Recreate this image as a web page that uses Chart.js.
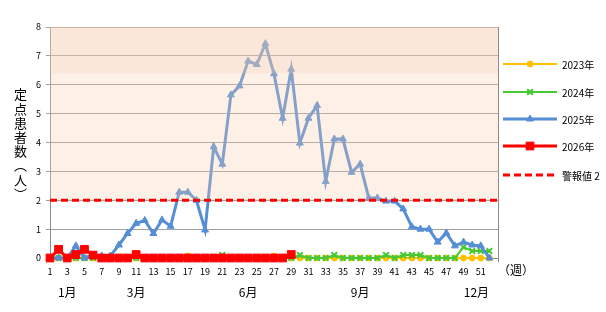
<!DOCTYPE html>
<html lang="ja">
<head>
<meta charset="utf-8">
<script src="https://cdn.jsdelivr.net/npm/chart.js@4.4.1/dist/chart.umd.min.js"></script>
<style>
  html, body { margin: 0; padding: 0; background: #fff; }
  #wrap { position: relative; width: 606px; height: 312px; }
  #yTitle {
    position: absolute; left: 12px; top: 88px;
    writing-mode: vertical-rl;
    font: 13px 'Noto Sans CJK JP', sans-serif; line-height: 16px; color: #000;
    letter-spacing: 1.2px;
  }
</style>
</head>
<body>
<div id="wrap">
  <canvas id="c" width="606" height="312"></canvas>
  <div id="yTitle">定点患者数（人）</div>
</div>
<script>
// week labels (53rd slot is empty, Excel leaves a gap on the right)
const WEEKS = [1,2,3,4,5,6,7,8,9,10,11,12,13,14,15,16,17,18,19,20,21,22,23,24,25,26,
  27,28,29,30,31,32,33,34,35,36,37,38,39,40,41,42,43,44,45,46,47,48,49,50,51,52,''];

const S2023 = [0,0,0,0,0,0,0,0,0,0,0,0,0,0,0,0,0.07,0,0,0,0,0,0,0,0,0,0.07,0,0,0,
  0,0,0,0,0,0,0,0,0,0,0,0,0,0,0,0,0,0,0,0,0,0];
const S2024 = [0,0,0,0,0,0,0,0,0,0,0,0,0,0,0,0,0,0,0,0,0.1,0,0,0,0,0,0,0,0,0.1,
  0,0,0,0.1,0,0,0,0,0,0.1,0,0.1,0.1,0.1,0,0,0,0,0.38,0.24,0.24,0.24];
const S2025 = [0,0,0,0.42,0,0.1,0.07,0.07,0.45,0.85,1.2,1.3,0.85,1.32,1.1,2.28,2.28,2.0,0.97,3.85,
  3.25,5.65,5.96,6.82,6.7,7.42,6.38,4.84,6.54,3.98,4.84,5.28,2.65,4.12,4.12,2.97,3.25,2.08,2.08,1.97,
  1.97,1.7,1.08,1.0,1.0,0.55,0.87,0.42,0.55,0.45,0.42,0];
const S2026 = [0,0.3,0,0.12,0.3,0.1,0,0,0,0,0.12,0,0,0,0,0,0,0,0,0,0,0,0,0,0,0,0,0,0.12];

const ALERT_LEVEL = 2;
const BAND_SPLIT = 6.4;
const Y_MAX = 8;

const MONTH_LABELS = ['1月', '3月', '6月', '9月', '12月'];
const MONTH_WEEKS = [3, 11, 24, 37, 50.5];

const SERIES_NAMES = ['2023年', '2024年', '2025年', '2026年', '警報値 2'];
const LEGEND_Y = [64, 92, 119, 146, 175];

const FONT = "'Noto Sans CJK JP', sans-serif";

// shaded band (drawn over the lines, like the original)
const bandPlugin = {
  id: 'band',
  afterDatasetDraw(chart, args) {
    if (args.index !== 3) return;
    const { ctx, chartArea: a, scales: { y } } = chart;
    const yTop = y.getPixelForValue(Y_MAX);
    const yMid = y.getPixelForValue(BAND_SPLIT);
    const yLow = y.getPixelForValue(ALERT_LEVEL);
    ctx.save();
    ctx.fillStyle = 'rgba(248,205,175,0.3)';
    ctx.fillRect(a.left, yTop, a.right - a.left, yLow - yTop);
    ctx.fillStyle = 'rgba(245,205,175,0.25)';
    ctx.fillRect(a.left, yTop, a.right - a.left, yMid - yTop);
    ctx.restore();
  }
};

// right legend, month labels, (週), right border
const extrasPlugin = {
  id: 'extras',
  afterDraw(chart) {
    const { ctx, chartArea: a, scales: { x } } = chart;
    ctx.save();
    // right border
    ctx.strokeStyle = '#8c8c8c';
    ctx.lineWidth = 1;
    ctx.beginPath();
    ctx.moveTo(a.right + 0.5, a.top);
    ctx.lineTo(a.right + 0.5, a.bottom + 4);
    ctx.stroke();

    // legend
    chart.data.datasets.forEach((ds, i) => {
      const yy = LEGEND_Y[i];
      ctx.strokeStyle = ds.borderColor;
      ctx.lineWidth = ds.borderWidth;
      ctx.setLineDash(ds.borderDash || []);
      ctx.beginPath();
      ctx.moveTo(503, yy);
      ctx.lineTo(557, yy);
      ctx.stroke();
      ctx.setLineDash([]);
      if (ds.pointRadius > 0) {
        ctx.fillStyle = ds.pointBackgroundColor;
        ctx.strokeStyle = ds.pointBorderColor;
        ctx.lineWidth = ds.pointBorderWidth;
        Chart.helpers.drawPoint(ctx, {
          pointStyle: ds.pointStyle, radius: ds.pointRadius,
          borderWidth: ds.pointBorderWidth, rotation: 0
        }, 530, yy);
      }
      ctx.fillStyle = '#000';
      ctx.font = '10px ' + FONT;
      ctx.textAlign = 'left';
      ctx.textBaseline = 'middle';
      ctx.fillText(ds.label, 562, yy + 1);
    });

    // month labels
    ctx.fillStyle = '#000';
    ctx.font = '12px ' + FONT;
    ctx.textAlign = 'center';
    ctx.textBaseline = 'middle';
    MONTH_LABELS.forEach((m, i) => {
      ctx.fillText(m, x.getPixelForValue(MONTH_WEEKS[i] - 1), 292);
    });
    ctx.fillText('（週）', 516, 270);
    ctx.restore();
  }
};

function series(label, data, color, width, style, radius, extra) {
  return Object.assign({
    label, data,
    borderColor: color, backgroundColor: color,
    pointBackgroundColor: color, pointBorderColor: color,
    borderWidth: width, pointStyle: style, pointRadius: radius,
    pointBorderWidth: 1, pointHoverRadius: radius,
    tension: 0, clip: false, spanGaps: false
  }, extra || {});
}

new Chart(document.getElementById('c'), {
  type: 'line',
  data: {
    labels: WEEKS,
    datasets: [
      series(SERIES_NAMES[0], S2023, '#FFC000', 2, 'circle', 3, { order: 4 }),
      series(SERIES_NAMES[1], S2024, '#46C832', 2, 'crossRot', 4, { order: 3, pointBorderWidth: 2 }),
      series(SERIES_NAMES[2], S2025, '#558ED5', 3, 'triangle', 4, { order: 2 }),
      series(SERIES_NAMES[3], S2026, '#FF0000', 3, 'rect', 5.5, { order: 1 }),
      series(SERIES_NAMES[4], WEEKS.map(() => ALERT_LEVEL), '#FF0000', 3, 'circle', 0,
        { order: 0, borderDash: [7, 4] })
    ]
  },
  options: {
    responsive: false,
    animation: false,
    events: [],
    layout: { padding: { left: 0, right: 108, top: 27, bottom: 0 } },
    plugins: { legend: { display: false }, tooltip: { enabled: false } },
    scales: {
      x: {
        offset: false,
        grid: { display: false, drawTicks: false },
        border: { display: true, color: '#8c8c8c' },
        ticks: {
          autoSkip: false, maxRotation: 0, padding: 8,
          color: '#000', font: { size: 9, family: FONT },
          callback: (v, i) => (i % 2 === 0 && WEEKS[i] !== '') ? WEEKS[i] : ''
        },
        afterFit: s => { s.height = 54; }
      },
      y: {
        min: 0, max: Y_MAX,
        grid: { color: '#a0a0a0', tickColor: '#a0a0a0', tickLength: 4 },
        border: { display: true, color: '#8c8c8c' },
        ticks: { stepSize: 1, padding: 5, color: '#000', font: { size: 9, family: FONT } },
        afterFit: s => { s.width = 50; }
      }
    }
  },
  plugins: [bandPlugin, extrasPlugin]
});
</script>
</body>
</html>
